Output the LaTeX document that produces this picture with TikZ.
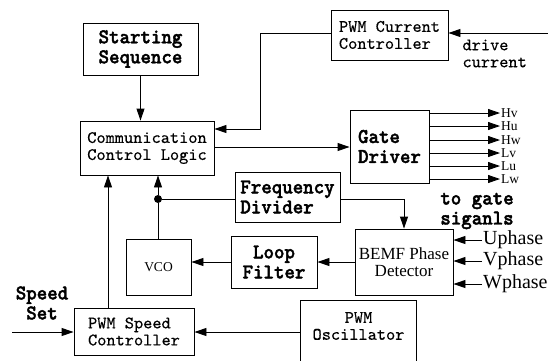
\documentclass[tikz,border=0pt]{standalone}
\usepackage{fontspec}
\setmainfont{Liberation Serif}
\newfontfamily\monof{lmmono10-regular.otf}[FakeBold=0.4]
\newfontfamily\monob{lmmonolt10-bold.otf}[FakeStretch=0.95, FakeBold=1.8]
\newfontfamily\serf{Liberation Serif}
\usetikzlibrary{arrows.meta}
\begin{document}
\begin{tikzpicture}[x=1pt,y=-1pt,
  box/.style={draw, line width=0.9pt, inner sep=0pt},
  bt/.style={font=\monob\fontsize{21}{20}\selectfont},
  nt/.style={font=\monof\fontsize{17.5}{17}\selectfont},
  st/.style={font=\serf\fontsize{17}{17}\selectfont},
  lab/.style={font=\serf\fontsize{13.5}{13}\selectfont, inner sep=1pt},
  phl/.style={font=\serf\fontsize{20}{20}\selectfont, inner sep=1pt},
  arr/.style={line width=0.9pt, -{Triangle[length=12pt,width=8pt]}},
  ln/.style={line width=0.9pt}]
\useasboundingbox (0,0) rectangle (548,360);

% boxes
\node[box, bt, align=left, minimum width=115pt, minimum height=52pt] (start) at (140.5,49) {Starting\\Sequence};
\node[box, nt, align=left, minimum width=134pt, minimum height=54pt] (ccl) at (147,148) {Communication\\Control Logic};
\node[box, nt, align=left, minimum width=117pt, minimum height=50pt] (cur) at (389.5,35) {PWM Current\\Controller};
\node[box, bt, align=left, minimum width=79pt, minimum height=73pt] (gate) at (389.5,146.5) {Gate\\Driver};
\node[box, bt, align=left, minimum width=105pt, minimum height=50pt] (fd) at (287.5,197) {Frequency\\Divider};
\node[box, lab, minimum width=65pt, minimum height=56pt] (vco) at (158.5,267) {VCO};
\node[box, bt, align=center, minimum width=86pt, minimum height=52pt] (loop) at (274,262) {Loop\\Filter};
\node[box, st, align=center, minimum width=98pt, minimum height=66pt] (bemf) at (404,262) {BEMF Phase\\Detector};
\node[inner sep=0pt, minimum width=115pt, minimum height=62pt] (osc) at (358.5,332) {};
\node[nt, align=center] (osct) at (358.5,326) {PWM\\Oscillator};
\draw[ln] (osc.south west) -- (osc.north west) -- (osc.north east) -- (osc.south east);
\node[box, nt, align=left, minimum width=120pt, minimum height=47pt] (spd) at (134,331.5) {PWM Speed\\Controller};

% junction dot
\node[circle, fill, inner sep=0pt, minimum size=8pt] (dot) at (158,199) {};

% connectors
\draw[arr] (start.south) -- (start.south |- ccl.north);

\coordinate (cin) at (548,33);
\draw[arr] (cin) -- (cin -| cur.east);
\node[nt, align=left, anchor=north west] (dc) at (459,36) {drive\\current};

\coordinate (k1) at (260,33);
\coordinate (k2) at (260,129);
\draw[arr] (cur.west |- k1) -- (k1) -- (k2) -- (k2 -| ccl.east);

\coordinate (g1) at (214,147);
\draw[arr] (g1) -- (g1 -| gate.west);

\foreach \yy/\t in {113/Hv,126/Hu,140/Hw,153/Lv,166/Lu,179/Lw}{
  \coordinate (o\t) at (500,\yy);
  \draw[arr] (gate.east |- o\t) -- (o\t);
  \node[lab, anchor=west] (l\t) at (o\t) {\t};
}
\node[bt, align=left] (tgs) at (477,211) {to gate\\siganls};

\draw[ln] (fd.west |- dot) -- (dot);
\draw[arr] (dot) -- (dot |- ccl.south);
\draw[ln] (vco.north -| dot) -- (dot);

\coordinate (k3) at (404,199);
\draw[arr] (fd.east |- k3) -- (k3) -- (bemf.north);

\draw[arr] (bemf.west) -- (loop.east);
\draw[arr] (loop.west) -- (loop.west -| vco.east);

\coordinate (k5) at (108,308);
\draw[arr] (k5) -- (k5 |- ccl.south);

\draw[arr] (osc.west) -- (osc.west -| spd.east);

\coordinate (sin) at (12,332);
\draw[arr] (sin) -- (sin -| spd.west);
\node[bt, align=center] (ss) at (42,303) {Speed\\Set};

\foreach \yy/\t in {240/Uphase,261/Vphase,284/Wphase}{
  \coordinate (p\t) at (482,\yy);
  \draw[arr] (p\t) -- (p\t -| bemf.east);
  \node[phl, anchor=west] (n\t) at (p\t) {\t};
}
\end{tikzpicture}
\end{document}
